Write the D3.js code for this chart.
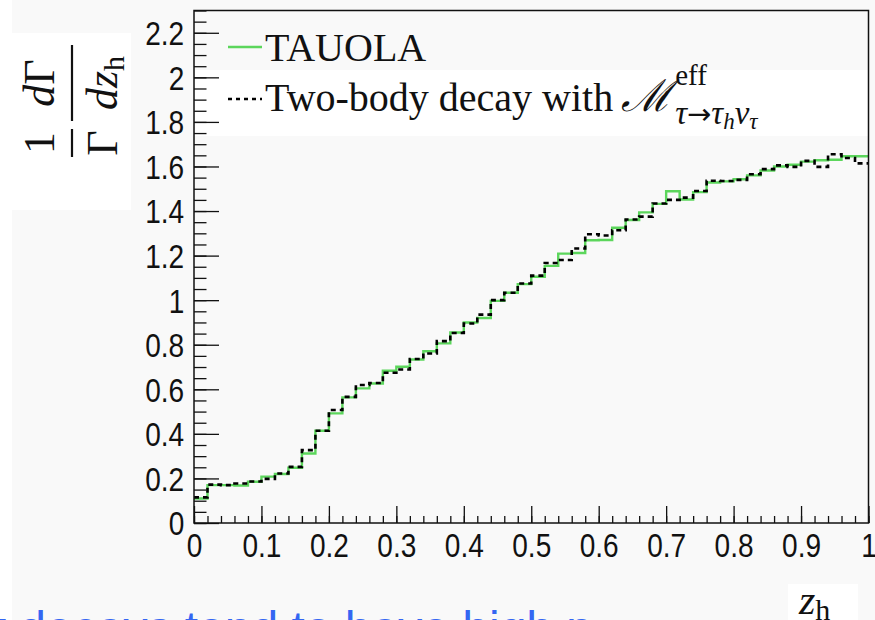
<!DOCTYPE html>
<html>
<head>
<meta charset="utf-8">
<script src="https://cdn.jsdelivr.net/npm/d3@7"></script>
<style>
  html, body { margin: 0; padding: 0; background: #f9f9f9; }
  svg { display: block; }
</style>
</head>
<body>
<svg id="chart" width="875" height="620"></svg>
<script>
// z_h distribution, 50 bins of width 0.02 on [0, 1]
const zRange = [0, 1];
const nBins = 50;

// TAUOLA prediction (green histogram)
const tauola = [
  0.110, 0.170, 0.170, 0.168, 0.185, 0.208, 0.220, 0.248, 0.312, 0.414,
  0.492, 0.564, 0.604, 0.626, 0.683, 0.701, 0.734, 0.771, 0.806, 0.855,
  0.900, 0.920, 0.997, 1.033, 1.072, 1.105, 1.154, 1.209, 1.212, 1.269,
  1.270, 1.325, 1.360, 1.394, 1.432, 1.489, 1.452, 1.485, 1.528, 1.533,
  1.543, 1.560, 1.582, 1.600, 1.608, 1.622, 1.628, 1.630, 1.646, 1.646
];

// Two-body decay with effective matrix element (black dashed histogram)
const twoBody = [
  0.115, 0.172, 0.170, 0.177, 0.186, 0.198, 0.222, 0.252, 0.327, 0.414,
  0.507, 0.566, 0.619, 0.628, 0.674, 0.689, 0.736, 0.761, 0.816, 0.853,
  0.895, 0.935, 1.000, 1.033, 1.075, 1.110, 1.167, 1.180, 1.232, 1.296,
  1.290, 1.314, 1.362, 1.375, 1.434, 1.450, 1.460, 1.490, 1.536, 1.535,
  1.540, 1.565, 1.588, 1.605, 1.598, 1.625, 1.598, 1.655, 1.638, 1.614
];

const xTicks = [0, 0.1, 0.2, 0.3, 0.4, 0.5, 0.6, 0.7, 0.8, 0.9, 1];
const xTickLabels = ["0", "0.1", "0.2", "0.3", "0.4", "0.5", "0.6", "0.7", "0.8", "0.9", "1"];
const yTicks = [0, 0.2, 0.4, 0.6, 0.8, 1, 1.2, 1.4, 1.6, 1.8, 2, 2.2];
const yTickLabels = ["0", "0.2", "0.4", "0.6", "0.8", "1", "1.2", "1.4", "1.6", "1.8", "2", "2.2"];
const yMax = 2.3;
const legendLabels = ["TAUOLA", "Two-body decay with"];

const svg = d3.select("#chart");
const frame = { left: 194, right: 868.5, top: 10.5, bottom: 523 };

const x = d3.scaleLinear().domain(zRange).range([frame.left, frame.right]);
const y = d3.scaleLinear().domain([0, yMax]).range([frame.bottom, frame.top]);

// page decorations: white strip on the left, white label boxes
svg.append("rect").attr("x", 0).attr("y", 0).attr("width", 12).attr("height", 620).attr("fill", "#ffffff");
svg.append("rect").attr("x", 12).attr("y", 33).attr("width", 119).attr("height", 177).attr("fill", "#ffffff");
svg.append("rect").attr("x", 195).attr("y", 70).attr("width", 673).attr("height", 66).attr("fill", "#ffffff");
svg.append("rect").attr("x", 788).attr("y", 584).attr("width", 70).attr("height", 36).attr("fill", "#ffffff");

// ---- axes (ticks point into the frame) ----
const binW = (zRange[1] - zRange[0]) / nBins;
const xMinor = d3.range(0, nBins + 1).map(i => +(i * binW).toFixed(4));
const yMinor = d3.range(0, 47).map(i => +(i * 0.05).toFixed(4));

const gxMinor = svg.append("g").attr("transform", `translate(0,${frame.bottom})`)
  .call(d3.axisBottom(x).tickValues(xMinor).tickSize(-7).tickFormat(""));
const gx = svg.append("g").attr("transform", `translate(0,${frame.bottom})`)
  .call(d3.axisBottom(x).tickValues(xTicks).tickSize(-17)
        .tickFormat((d, i) => xTickLabels[i]));

const gyMinor = svg.append("g").attr("transform", `translate(${frame.left},0)`)
  .call(d3.axisLeft(y).tickValues(yMinor).tickSize(-12.5).tickFormat(""));
const gy = svg.append("g").attr("transform", `translate(${frame.left},0)`)
  .call(d3.axisLeft(y).tickValues(yTicks).tickSize(-25).tickPadding(11.5)
        .tickFormat((d, i) => yTickLabels[i]));

[gxMinor, gx, gyMinor, gy].forEach(g => {
  g.select(".domain").remove();
  g.selectAll(".tick line").attr("stroke", "#111").attr("stroke-width", 1.3);
});

gx.selectAll(".tick text")
  .attr("y", 34).attr("dy", 0)
  .attr("transform", "scale(0.85,1)")
  .style("font-family", "'Liberation Sans', Arial, sans-serif")
  .style("font-size", "33px").attr("fill", "#111");

gy.selectAll(".tick text")
  .attr("transform", "scale(0.85,1)")
  .attr("dy", "0.36em")
  .style("font-family", "'Liberation Sans', Arial, sans-serif")
  .style("font-size", "33px").attr("fill", "#111");

// ---- histograms ----
const edges = d3.range(nBins + 1).map(i => zRange[0] + i * binW);
function stepPoints(vals) {
  const pts = [];
  vals.forEach((v, i) => { pts.push([edges[i], v]); pts.push([edges[i + 1], v]); });
  return pts;
}
const line = d3.line().x(d => x(d[0])).y(d => y(d[1]));

svg.append("path").datum(stepPoints(tauola))
  .attr("d", line).attr("fill", "none")
  .attr("stroke", "#5cd65c").attr("stroke-width", 2.4);

svg.append("path").datum(stepPoints(twoBody))
  .attr("d", line).attr("fill", "none")
  .attr("stroke", "#000").attr("stroke-width", 2.6)
  .attr("stroke-dasharray", "5,4");

// frame
svg.append("rect")
  .attr("x", frame.left).attr("y", frame.top)
  .attr("width", frame.right - frame.left).attr("height", frame.bottom - frame.top)
  .attr("fill", "none").attr("stroke", "#111").attr("stroke-width", 1.5);

// ---- legend ----
const serif = "'Liberation Serif', 'Times New Roman', serif";
const leg = svg.append("g");
leg.append("line").attr("x1", 228).attr("x2", 262).attr("y1", 47).attr("y2", 47)
  .attr("stroke", "#5cd65c").attr("stroke-width", 2.4);
leg.append("text").attr("x", 265).attr("y", 61).text(legendLabels[0])
  .style("font-family", serif).style("font-size", "40px").attr("fill", "#111");

leg.append("line").attr("x1", 228).attr("x2", 262).attr("y1", 99).attr("y2", 99)
  .attr("stroke", "#000").attr("stroke-width", 2.6).attr("stroke-dasharray", "4,4");
const t2 = leg.append("text").attr("x", 265).attr("y", 111).text(legendLabels[1])
  .style("font-family", serif).style("font-size", "40px").attr("fill", "#111");
const mX = 265 + t2.node().getComputedTextLength() + 8;
const mT = leg.append("text").attr("x", mX).attr("y", 111).text("ℳ")
  .style("font-family", "'DejaVu Serif', serif").style("font-style", "italic")
  .style("font-size", "44px").attr("fill", "#111");
const scriptX = mX + mT.node().getComputedTextLength() + 3;
leg.append("text").attr("x", scriptX).attr("y", 85).text("eff")
  .style("font-family", serif).style("font-size", "29px").attr("fill", "#111");
const sub = leg.append("text").attr("x", scriptX).attr("y", 124)
  .style("font-family", serif).style("font-size", "33px").attr("fill", "#111");
sub.append("tspan").style("font-style", "italic").text("τ");
sub.append("tspan").style("font-family", "'DejaVu Sans', sans-serif").style("font-size", "29px").text("→");
sub.append("tspan").style("font-style", "italic").text("τ");
sub.append("tspan").attr("dy", 5).style("font-style", "italic").style("font-size", "23px").text("h");
sub.append("tspan").attr("dy", -5).style("font-style", "italic").text("ν");
sub.append("tspan").attr("dy", 5).style("font-style", "italic").style("font-size", "23px").text("τ");

// ---- y-axis title: (1/Γ) dΓ/dz_h, rotated ----
const yt = svg.append("g").attr("transform", "translate(72,120) rotate(-90)");
function frac(cx, halfLen, num, den) {
  yt.append("line").attr("x1", cx - halfLen).attr("x2", cx + halfLen)
    .attr("y1", 0).attr("y2", 0).attr("stroke", "#111").attr("stroke-width", 2.2);
  const n = yt.append("text").attr("x", cx).attr("y", -18).attr("text-anchor", "middle")
    .style("font-family", serif).style("font-size", "44px").attr("fill", "#111");
  num(n);
  const d = yt.append("text").attr("x", cx).attr("y", 45).attr("text-anchor", "middle")
    .style("font-family", serif).style("font-size", "44px").attr("fill", "#111");
  den(d);
}
frac(-23, 14, n => n.text("1"), d => d.text("Γ"));
frac(37, 38,
  n => { n.append("tspan").style("font-style", "italic").text("d"); n.append("tspan").text("Γ"); },
  d => {
    d.append("tspan").style("font-style", "italic").text("dz");
    d.append("tspan").attr("dy", 7).style("font-size", "30px").text("h");
  });

// ---- x-axis title ----
const xt = svg.append("text").attr("x", 799).attr("y", 614)
  .style("font-family", serif).style("font-size", "42px").attr("fill", "#111");
xt.append("tspan").style("font-style", "italic").text("z");
xt.append("tspan").attr("dy", 6).style("font-size", "30px").text("h");

// ---- caption line partly visible at the bottom ----
svg.append("text").attr("x", -13).attr("y", 645)
  .style("font-family", "'Liberation Sans', Arial, sans-serif")
  .style("font-size", "48px").attr("fill", "#3466f2")
  .text("τ decays tend to have high p");
</script>
</body>
</html>
